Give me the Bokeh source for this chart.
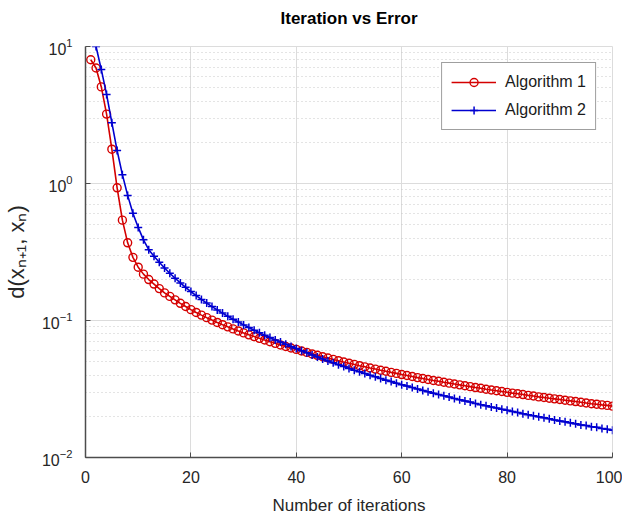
from bokeh.plotting import figure
from bokeh.models import FixedTicker, Legend, LegendItem, Title
from bokeh.embed import file_html
from bokeh.resources import INLINE

# Algorithm 1: iterations 1..100
iter1 = list(range(1, 101))
err1 = [
    8.0, 6.97, 5.07, 3.21, 1.78, 0.93, 0.54, 0.369, 0.289, 0.245,
    0.218, 0.199, 0.1845, 0.171, 0.159, 0.150, 0.1415, 0.1335, 0.1265, 0.120,
    0.1145, 0.1095, 0.1049, 0.1007, 0.0968, 0.0932, 0.0899, 0.0868, 0.0839, 0.0812,
    0.0786, 0.0763, 0.0741, 0.0720, 0.0700, 0.0681, 0.0663, 0.0646, 0.0630, 0.0615,
    0.0599, 0.0585, 0.0570, 0.0557, 0.0544, 0.0532, 0.0520, 0.0509, 0.0498, 0.0488,
    0.0478, 0.0468, 0.0459, 0.0450, 0.0442, 0.0433, 0.0426, 0.0418, 0.0411, 0.0403,
    0.0397, 0.0390, 0.0383, 0.0377, 0.0371, 0.0365, 0.0360, 0.0354, 0.0349, 0.0344,
    0.0339, 0.0334, 0.0329, 0.0324, 0.0320, 0.0315, 0.0311, 0.0307, 0.0303, 0.0299,
    0.0295, 0.0292, 0.0288, 0.0284, 0.0281, 0.0277, 0.0274, 0.0271, 0.0268, 0.0265,
    0.0262, 0.0259, 0.0256, 0.0253, 0.0250, 0.0247, 0.0245, 0.0242, 0.0240, 0.0237,
]

# Algorithm 2: iterations 2..100
iter2 = list(range(2, 101))
err2 = [
    10.0, 6.78, 4.47, 2.78, 1.74, 1.16, 0.819, 0.607, 0.478,
    0.388, 0.329, 0.2946, 0.2659, 0.2418, 0.2212, 0.2034, 0.1880, 0.1745, 0.1626,
    0.1520, 0.1425, 0.1341, 0.1264, 0.1195, 0.1132, 0.1074, 0.1022, 0.0974, 0.0929,
    0.0888, 0.0850, 0.0815, 0.0782, 0.0751, 0.0722, 0.0696, 0.0670, 0.0647, 0.0625,
    0.0602, 0.0581, 0.0561, 0.0542, 0.0524, 0.0507, 0.0491, 0.0475, 0.0461, 0.0447,
    0.0434, 0.0422, 0.0410, 0.0398, 0.0388, 0.0377, 0.0367, 0.0358, 0.0349, 0.0340,
    0.0332, 0.0324, 0.0316, 0.0309, 0.0302, 0.0295, 0.0288, 0.0282, 0.0276, 0.0270,
    0.0264, 0.0259, 0.0254, 0.0248, 0.0243, 0.0239, 0.0234, 0.0230, 0.0225, 0.0221,
    0.0217, 0.0213, 0.0209, 0.0205, 0.0202, 0.0198, 0.0195, 0.0192, 0.0188, 0.0185,
    0.0182, 0.0179, 0.0176, 0.0173, 0.0171, 0.0168, 0.0166, 0.0163, 0.0161, 0.0158,
]

x_ticks = [0, 20, 40, 60, 80, 100]
labels = ["Algorithm 1", "Algorithm 2"]
title_text = "Iteration vs Error"

FONT = "Liberation Sans"
RED = "#d40000"
BLUE = "#0000d0"

p = figure(width=622, height=517, y_axis_type="log",
           x_range=(0, 100), y_range=(0.01, 10),
           output_backend="svg", toolbar_location=None,
           min_border_left=85, min_border_right=10,
           min_border_top=46, min_border_bottom=57)
p.title = None

# spacer panel between the frame and the title, then the title itself
p.add_layout(Title(text=" ", text_font_size="13px", standoff=0), "above")
p.add_layout(Title(text=title_text, align="center", text_font=FONT,
                   text_font_size="17px", text_font_style="bold",
                   text_color="#000000", standoff=4), "above")

l1 = p.line(iter1, err1, line_color=RED, line_width=1.6)
s1 = p.scatter(iter1, err1, marker="circle", size=8, fill_color=None,
               line_color=RED, line_width=1.4)
l2 = p.line(iter2, err2, line_color=BLUE, line_width=1.6)
s2 = p.scatter(iter2, err2, marker="cross", size=8,
               line_color=BLUE, line_width=1.5)

legend = Legend(items=[LegendItem(label=labels[0], renderers=[l1, s1]),
                       LegendItem(label=labels[1], renderers=[l2, s2])],
                location="top_right")
legend.margin = 16
legend.padding = 9
legend.spacing = 8
legend.glyph_width = 45
legend.glyph_height = 20
legend.label_standoff = 9
legend.label_text_font = FONT
legend.label_text_font_size = "16px"
legend.label_text_color = "#1a1a1a"
legend.border_line_color = "#404040"
legend.border_line_width = 1
legend.background_fill_color = "white"
legend.background_fill_alpha = 1
p.add_layout(legend)

p.xaxis.ticker = FixedTicker(ticks=x_ticks)
p.yaxis.ticker.desired_num_ticks = 4

for ax in (p.xaxis, p.yaxis):
    ax.axis_line_color = "#4d4d4d"
    ax.axis_line_width = 1.5
    ax.major_tick_line_color = "#4d4d4d"
    ax.major_tick_in = 5
    ax.major_tick_out = 0
    ax.minor_tick_line_color = None
    ax.major_label_text_font = FONT
    ax.major_label_text_font_size = "16px"
    ax.major_label_text_color = "#262626"
    ax.axis_label_text_font = FONT
    ax.axis_label_text_font_size = "17px"
    ax.axis_label_text_font_style = "normal"
    ax.axis_label_text_color = "#262626"
    ax.major_label_standoff = 9

p.xaxis.major_label_standoff = 13
p.xaxis.axis_label = "Number of iterations"
p.xaxis.axis_label_standoff = 10
p.yaxis.axis_label = "d(xₙ₊₁, xₙ)"
p.yaxis.axis_label_text_font_size = "22px"
p.yaxis.axis_label_standoff = 10

p.xgrid.grid_line_color = "#dcdcdc"
p.ygrid.grid_line_color = "#dcdcdc"
p.ygrid.minor_grid_line_color = "#c8c8c8"
p.ygrid.minor_grid_line_dash = "1 3"
p.outline_line_color = "#dcdcdc"
p.background_fill_color = "white"
p.border_fill_color = "white"

open("out.html", "w").write(file_html(p, INLINE))
